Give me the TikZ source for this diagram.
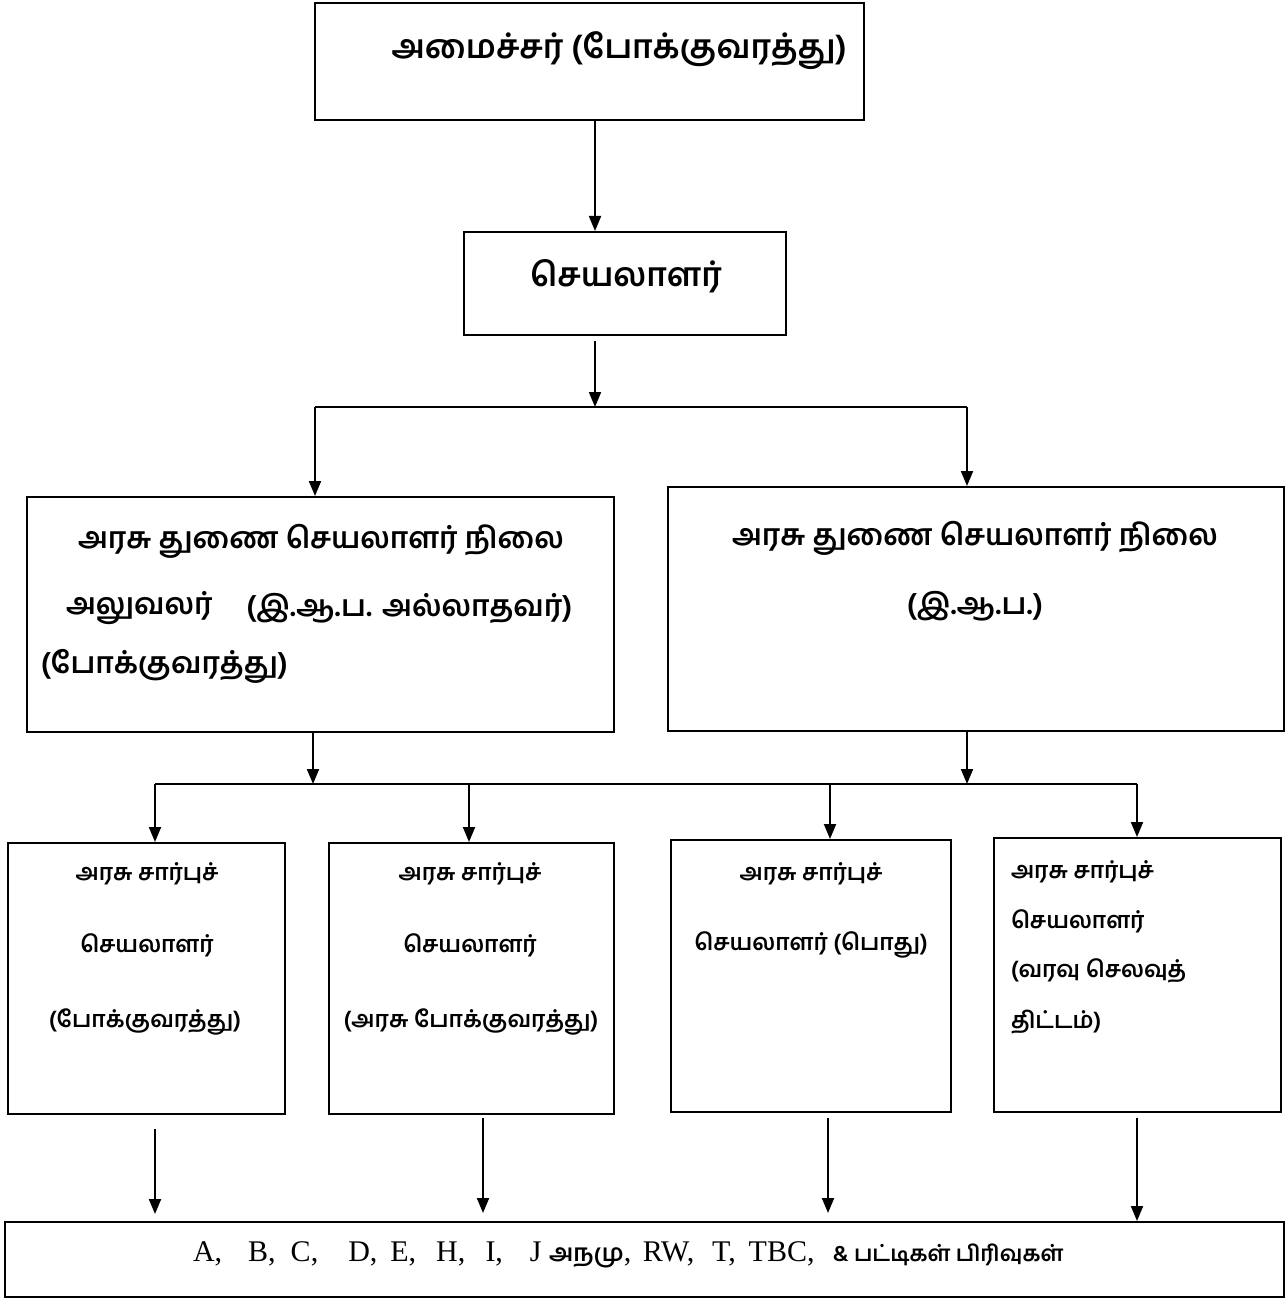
\documentclass[tikz,border=0pt]{standalone}
\usepackage{fontspec}
\setmainfont{Liberation Serif}
\newfontfamily\tam[Script=Tamil]{Hind Madurai}
\usetikzlibrary{arrows.meta,fit}
\begin{document}
\begin{tikzpicture}[x=0.5pt,y=-0.5pt,line width=1pt,
  box/.style={draw,line width=1pt,inner sep=0pt},
  arr/.style={-{Triangle[width=6pt,length=7.5pt]}},
  head/.style={font=\tam\bfseries\fontsize{16.5}{20}\selectfont,inner sep=0pt},
  big/.style={font=\tam\bfseries\fontsize{14.8}{18}\selectfont,inner sep=0pt},
  small/.style={font=\tam\bfseries\fontsize{11.5}{14}\selectfont,inner sep=0pt}]
\useasboundingbox[fill=white] (0,0) rectangle (1288,1300);
% boxes
\node[box,fit={(315,3) (864,120)}] (top) {};
\node[box,fit={(464,232) (786,335)}] (sec) {};
\node[box,fit={(27,497) (614,732)}] (L) {};
\node[box,fit={(668,487) (1284,731)}] (R) {};
\node[box,fit={(8,843) (285,1114)}] (s1) {};
\node[box,fit={(329,843) (614,1114)}] (s2) {};
\node[box,fit={(671,840) (951,1112)}] (s3) {};
\node[box,fit={(994,838) (1281,1112)}] (s4) {};
\node[box,fit={(5,1222) (1284,1297)}] (bot) {};
% texts
\node[head] (t1) at (619,51) {அமைச்சர் (போக்குவரத்து)};
\node[head] (t2) at (626,276) {செயலாளர்};
\node[big] (tl1) at (321,541) {அரசு துணை செயலாளர் நிலை};
\node[big,anchor=west] (tl2a) at (65,608) {அலுவலர்};
\node[big,anchor=east] (tl2b) at (573,608) {(இ.ஆ.ப. அல்லாதவர்)};
\node[big,anchor=west] (tl3) at (40,666) {(போக்குவரத்து)};
\node[big] (tr1) at (975,538) {அரசு துணை செயலாளர் நிலை};
\node[big] (tr2) at (975,606) {(இ.ஆ.ப.)};
\node[small] (a1) at (147,874) {அரசு சார்புச்};
\node[small] (a2) at (147,945) {செயலாளர்};
\node[small] (a3) at (145,1022) {(போக்குவரத்து)};
\node[small] (b1) at (470,874) {அரசு சார்புச்};
\node[small] (b2) at (470,945) {செயலாளர்};
\node[small] (b3) at (471,1022) {(அரசு போக்குவரத்து)};
\node[small] (c1) at (811,874) {அரசு சார்புச்};
\node[small] (c2) at (811,945) {செயலாளர் (பொது)};
\node[small,anchor=west] (d1) at (1010,872) {அரசு சார்புச்};
\node[small,anchor=west] (d2) at (1010,921) {செயலாளர்};
\node[small,anchor=west] (d3) at (1010,971) {(வரவு செலவுத்};
\node[small,anchor=west] (d4) at (1010,1022) {திட்டம்)};
\node[inner sep=0pt,anchor=west,font=\fontsize{15}{18}\selectfont] (bt) at (192,1255)
  {A,\hspace{0.87em}B,\hspace{0.5em}C,\hspace{1.0em}D,\hspace{0.43em}E,\hspace{0.67em}H,\hspace{0.67em}I,\hspace{0.9em}J {\tam\bfseries\fontsize{12}{14}\selectfont அநமு},\hspace{0.38em}RW,\hspace{0.6em}T,\hspace{0.43em}TBC,\hspace{0.6em}{\tam\bfseries\fontsize{11}{14}\selectfont \& பட்டிகள் பிரிவுகள்}};
% junction coordinates
\coordinate (h1) at (595,407);
\coordinate (h1l) at (315,407);
\coordinate (h1r) at (967,407);
\coordinate (h2l) at (155,784);
\coordinate (h2a) at (313,784);
\coordinate (h2b) at (469,784);
\coordinate (h2c) at (830,784);
\coordinate (h2d) at (967,784);
\coordinate (h2r) at (1137,784);
% connectors
\draw[arr] (top.south -| h1) -- (sec.north -| h1);
\draw[arr] ([yshift=-2.5pt]sec.south -| h1) -- (h1);
\draw (h1l) -- (h1r);
\draw[arr] (h1l) -- (L.north -| h1l);
\draw[arr] (h1r) -- (R.north -| h1r);
\draw[arr] (L.south -| h2a) -- (h2a);
\draw[arr] (R.south -| h2d) -- (h2d);
\draw (h2l) -- (h2r);
\draw[arr] (h2l) -- (s1.north -| h2l);
\draw[arr] (h2b) -- (s2.north -| h2b);
\draw[arr] (h2c) -- (s3.north -| h2c);
\draw[arr] (h2r) -- (s4.north -| h2r);
\coordinate (v1) at (155,0);
\coordinate (v2) at (483,0);
\coordinate (v3) at (828,0);
\coordinate (v4) at (1137,0);
\draw[arr,shorten >=3.5pt] ([yshift=-7pt]s1.south -| v1) -- (bot.north -| v1);
\draw[arr,shorten >=4pt] ([yshift=-1.5pt]s2.south -| v2) -- (bot.north -| v2);
\draw[arr,shorten >=4pt] ([yshift=-2.5pt]s3.south -| v3) -- (bot.north -| v3);
\draw[arr] ([yshift=-2.5pt]s4.south -| v4) -- (bot.north -| v4);
\end{tikzpicture}
\end{document}
